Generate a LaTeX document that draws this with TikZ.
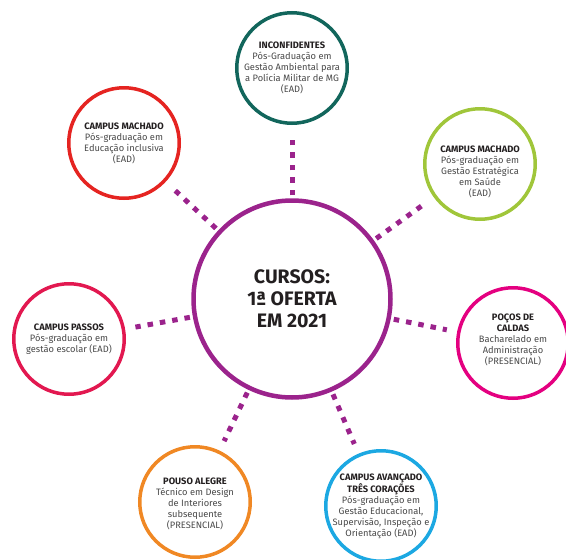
\documentclass[tikz,border=0pt]{standalone}
\usepackage{fontspec}
\setmainfont{Fira Sans}
\definecolor{cpurple}{RGB}{155,35,140}
\definecolor{cteal}{RGB}{18,102,92}
\definecolor{cred}{RGB}{229,36,33}
\definecolor{cgreen}{RGB}{160,198,58}
\definecolor{ccrimson}{RGB}{226,24,80}
\definecolor{cpink}{RGB}{228,0,128}
\definecolor{corange}{RGB}{240,136,36}
\definecolor{cblue}{RGB}{28,168,226}
\definecolor{ctitle}{RGB}{35,31,32}
\definecolor{cbody}{RGB}{72,72,72}
\begin{document}
\begin{tikzpicture}[x=1pt,y=-1pt,
  hub/.style={circle,draw=cpurple,line width=4.5pt,minimum size=197pt,inner sep=0pt},
  campus/.style={circle,line width=3.5pt,minimum size=110.5pt,inner sep=0pt},
  hubtext/.style={align=center,text=ctitle,font=\fontsize{19.5}{22}\selectfont\bfseries},
  ctext/.style={align=center,text=cbody,font=\fontsize{9.3}{11}\selectfont},
  conn/.style={draw=cpurple,line width=5pt,dash pattern=on 5.5pt off 7pt,shorten <=3pt,shorten >=10.5pt}
]
\useasboundingbox (0,0) rectangle (566,560);
\clip (0,0) rectangle (566,560);
\newcommand{\ttl}[1]{{\bfseries\color{ctitle}#1}}

\node[hub] (hub) at (292,299) {};
\node[hubtext] (hubt) at (hub.center) {CURSOS:\\1ª OFERTA\\EM 2021};

\node[campus,draw=cteal] (inc) at (292,68) {};
\node[ctext] (inct) at (inc.center) {\ttl{INCONFIDENTES}\\Pós-Graduação em\\Gestão Ambiental para\\a Polícia Militar de MG\\(EAD)};

\node[campus,draw=cred] (mach1) at (124,143) {};
\node[ctext] (mach1t) at (mach1.center) {\ttl{CAMPUS MACHADO}\\Pós-graduação em\\Educação inclusiva\\(EAD)};

\node[campus,draw=cgreen] (mach2) at (480,164) {};
\node[ctext] (mach2t) at ([yshift=-8pt]mach2.center) {\ttl{CAMPUS MACHADO}\\Pós-graduação em\\Gestão Estratégica\\em Saúde\\(EAD)};

\node[campus,draw=ccrimson] (pas) at (69,339) {};
\node[ctext] (past) at (pas.center) {\ttl{CAMPUS PASSOS}\\Pós-graduação em\\gestão escolar (EAD)};

\node[campus,draw=cpink] (poc) at (513,343) {};
\node[ctext] (poct) at ([yshift=3pt]poc.center) {\ttl{POÇOS DE}\\\ttl{CALDAS}\\Bacharelado em\\Administração\\(PRESENCIAL)};

\node[campus,draw=corange] (pou) at (195,502) {};
\node[ctext] (pout) at ([yshift=-2pt]pou.center) {\ttl{POUSO ALEGRE}\\Técnico em Design\\de Interiores\\subsequente\\(PRESENCIAL)};

\node[campus,draw=cblue] (tre) at (381,506) {};
\node[ctext] (tret) at (tre.center) {\ttl{CAMPUS AVANÇADO}\\\ttl{TRÊS CORAÇÕES}\\Pós-graduação em\\Gestão Educacional,\\Supervisão, Inspeção e\\Orientação (EAD)};

\draw[conn] (hub) -- (inc);
\draw[conn] (hub) -- (mach1);
\draw[conn] (hub) -- (mach2);
\draw[conn] (hub) -- (pas);
\draw[conn] (hub) -- (poc);
\draw[conn] (hub) -- (pou);
\draw[conn] (hub) -- (tre);
\end{tikzpicture}
\end{document}
